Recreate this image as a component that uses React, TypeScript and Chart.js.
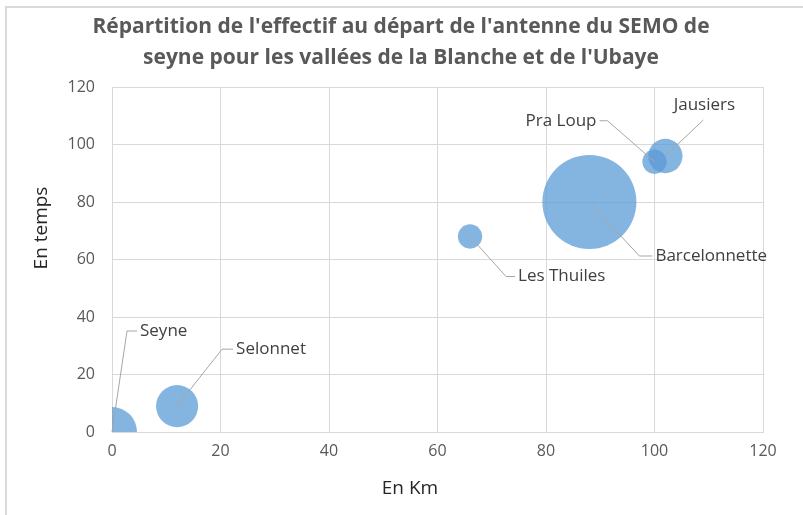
import React, { useEffect, useRef } from "react";
import { Chart, registerables } from "chart.js";

Chart.register(...registerables);

// ---- Data ----
const places = ["Seyne", "Selonnet", "Les Thuiles", "Barcelonnette", "Pra Loup", "Jausiers"];
const distanceKm = [0, 12, 66, 88, 100, 102];
const tempsMin = [0, 9, 68, 80, 94, 96];
const effectif = [17, 12, 4, 60, 4, 8];
const titleLines = [
  "Répartition de l'effectif au départ de l'antenne du SEMO de",
  "seyne pour les vallées de la Blanche et de l'Ubaye",
];
const xAxisTitle = "En Km";
const yAxisTitle = "En temps";
const axisMin = 0;
const axisMax = 120;
const axisStep = 20;

// ---- Styling ----
const FONT = "'Open Sans', Lato, sans-serif";
const MAX_RADIUS = 47;
const BUBBLE_COLOR = "rgba(91,155,213,0.75)";
const GRID = "#d9d9d9";
const CANVAS_W = 811;
// label leader layout (pixel offsets from bubble centre)
const labelLayout = [
  { dx: 15, dy: -101, hx: 10, mode: "right" },
  { dx: 45, dy: -57, hx: 11, mode: "right" },
  { dx: 36, dy: 40, hx: 9, mode: "right" },
  { dx: 50, dy: 54, hx: 13, mode: "right" },
  { dx: -47, dy: -41, hx: -8, mode: "left" },
  { dx: 38, dy: -36, hx: 0, mode: "top" },
];

const maxEff = Math.max(...effectif);

const labelPlugin = {
  id: "leaderLabels",
  afterDatasetsDraw(chart: any) {
    const ctx = chart.ctx;
    const meta = chart.getDatasetMeta(0);
    ctx.save();
    ctx.font = `17px ${FONT}`;
    ctx.fillStyle = "#404040";
    ctx.strokeStyle = "#a6a6a6";
    ctx.lineWidth = 1;
    meta.data.forEach((pt: any, i: number) => {
      const L = labelLayout[i];
      const cx = pt.x;
      const cy = pt.y;
      const ex = cx + L.dx;
      const ey = cy + L.dy;
      ctx.beginPath();
      ctx.moveTo(cx, cy);
      ctx.lineTo(ex, ey);
      ctx.lineTo(ex + L.hx, ey);
      ctx.stroke();
      ctx.textBaseline = "middle";
      if (L.mode === "right") {
        ctx.textAlign = "left";
        ctx.fillText(places[i], ex + L.hx + 3, ey);
      } else if (L.mode === "left") {
        ctx.textAlign = "right";
        ctx.fillText(places[i], ex + L.hx - 3, ey);
      } else {
        ctx.textAlign = "center";
        ctx.fillText(places[i], ex + 1, ey - 15);
      }
    });
    ctx.restore();
  },
};

const titlePlugin = {
  id: "customTitles",
  afterDraw(chart: any) {
    const ctx = chart.ctx;
    ctx.save();
    // frame (top & left)
    ctx.strokeStyle = "#d9d9d9";
    ctx.lineWidth = 2;
    ctx.beginPath();
    ctx.moveTo(6, 515);
    ctx.lineTo(6, 7);
    ctx.lineTo(CANVAS_W, 7);
    ctx.stroke();
    // title
    ctx.fillStyle = "#595959";
    ctx.font = `bold 21px ${FONT}`;
    ctx.textAlign = "center";
    ctx.textBaseline = "middle";
    ctx.fillText(titleLines[0], 401, 27);
    ctx.fillText(titleLines[1], 401, 58);
    // axis titles
    ctx.fillStyle = "#262626";
    ctx.font = `19px ${FONT}`;
    ctx.fillText(xAxisTitle, 410, 489);
    ctx.translate(42, 228);
    ctx.rotate(-Math.PI / 2);
    ctx.fillText(yAxisTitle, 0, 0);
    ctx.restore();
  },
};

export default function App() {
  const ref = useRef<HTMLCanvasElement | null>(null);
  useEffect(() => {
    if (!ref.current) return;
    const chart = new Chart(ref.current, {
      type: "bubble",
      data: {
        datasets: [
          {
            label: "Effectif",
            data: places.map((_, i) => ({
              x: distanceKm[i],
              y: tempsMin[i],
              r: MAX_RADIUS * Math.sqrt(effectif[i] / maxEff),
            })),
            backgroundColor: BUBBLE_COLOR,
            borderWidth: 0,
            hoverRadius: 0,
            clip: 0,
          } as any,
        ],
      },
      options: {
        responsive: false,
        animation: false,
        events: [],
        layout: { padding: { top: 87, right: 48, left: 0, bottom: 0 } },
        plugins: { legend: { display: false }, tooltip: { enabled: false }, title: { display: false } },
        scales: {
          x: {
            type: "linear",
            min: axisMin,
            max: axisMax,
            ticks: { stepSize: axisStep, color: "#595959", font: { family: FONT, size: 16 }, padding: 10 },
            grid: { color: GRID, drawTicks: false },
            border: { color: GRID },
            afterFit: (s: any) => { s.height = 83; },
          },
          y: {
            type: "linear",
            min: axisMin,
            max: axisMax,
            ticks: { stepSize: axisStep, color: "#595959", font: { family: FONT, size: 16 }, padding: 17 },
            grid: { color: GRID, drawTicks: false },
            border: { color: GRID },
            afterFit: (s: any) => { s.width = 112; },
          },
        },
      } as any,
      plugins: [labelPlugin, titlePlugin],
    });
    return () => chart.destroy();
  }, []);
  return (
    <div style={{ position: "absolute", left: 0, top: 0, width: 803, height: 515, overflow: "hidden", background: "#fff" }}>
      <canvas ref={ref} width={CANVAS_W} height={515} style={{ display: "block" }} />
    </div>
  );
}
